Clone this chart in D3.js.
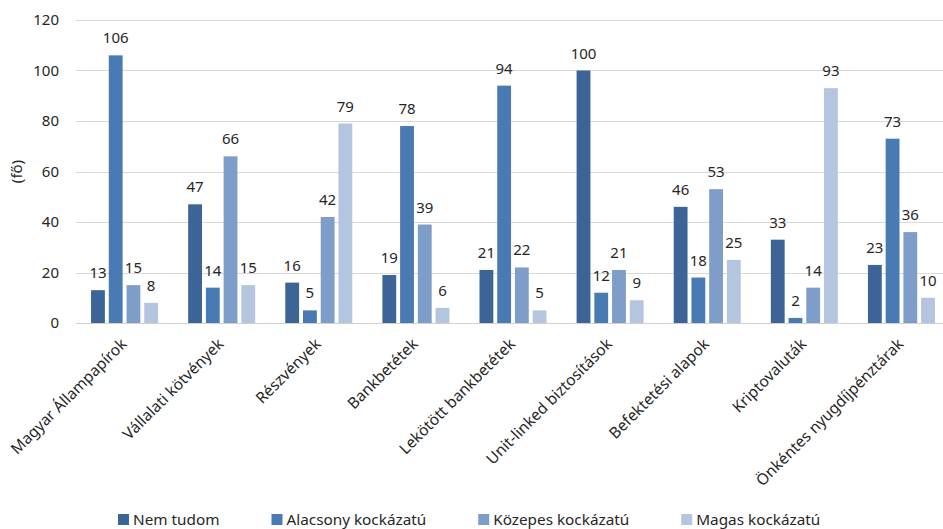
<!DOCTYPE html>
<html>
<head>
<meta charset="utf-8">
<script src="https://cdn.jsdelivr.net/npm/d3@7"></script>
<style>
  html, body { margin: 0; padding: 0; background: #fff; }
  svg { display: block; font-family: "Noto Sans", "Open Sans", sans-serif; }
</style>
</head>
<body>
<svg id="chart" width="943" height="529"></svg>
<script>
// Investment products and the perceived risk level of each (number of respondents)
const categories = [
  "Magyar Állampapírok",
  "Vállalati kötvények",
  "Részvények",
  "Bankbetétek",
  "Lekötött bankbetétek",
  "Unit-linked biztosítások",
  "Befektetési alapok",
  "Kriptovaluták",
  "Önkéntes nyugdíjpénztárak"
];
const seriesNames = ["Nem tudom", "Alacsony kockázatú", "Közepes kockázatú", "Magas kockázatú"];
const nemTudom   = [13, 47, 16, 19, 21, 100, 46, 33, 23];
const alacsony   = [106, 14, 5, 78, 94, 12, 18, 2, 73];
const kozepes    = [15, 66, 42, 39, 22, 21, 53, 14, 36];
const magas      = [8, 15, 79, 6, 5, 9, 25, 93, 10];
const yTicks = [0, 20, 40, 60, 80, 100, 120];
const yLabel = "(fő)";

const seriesValues = [nemTudom, alacsony, kozepes, magas];
const colors = ["#3c6496", "#4a7ab3", "#7f9dc9", "#b4c5e0"];

const svg = d3.select("#chart");
const textColor = "#262626";

const y = d3.scaleLinear().domain([0, 120]).range([323, 20]);
const x0 = d3.scaleBand().domain(categories).range([76, 950])
  .paddingInner(0.31).paddingOuter(0.155);
const x1 = d3.scaleBand().domain(seriesNames).range([0, x0.bandwidth()])
  .paddingInner(0.22);

// gridlines
svg.append("g")
  .selectAll("line")
  .data(yTicks)
  .join("line")
  .attr("x1", 76).attr("x2", 943)
  .attr("y1", d => Math.round(y(d)) + 0.5)
  .attr("y2", d => Math.round(y(d)) + 0.5)
  .attr("stroke", d => d === 0 ? "#d0d0d0" : "#d9d9d9")
  .attr("stroke-width", 1);

// y axis labels
const yAxis = svg.append("g").attr("transform", "translate(59,0)")
  .call(d3.axisLeft(y).tickValues(yTicks).tickSize(0).tickPadding(0));
yAxis.select(".domain").remove();
yAxis.selectAll("text")
  .attr("font-size", 15)
  .attr("font-family", "Noto Sans")
  .attr("fill", textColor);

svg.append("text")
  .attr("transform", `translate(22,${(y(0) + y(120)) / 2}) rotate(-90)`)
  .attr("text-anchor", "middle")
  .attr("font-size", 15)
  .attr("fill", textColor)
  .text(yLabel);

// bars
const rows = categories.map((c, i) => ({
  cat: c,
  vals: seriesNames.map((s, k) => ({ s, k, v: seriesValues[k][i] }))
}));

const groups = svg.append("g").selectAll("g")
  .data(rows)
  .join("g")
  .attr("transform", d => `translate(${x0(d.cat)},0)`);

groups.selectAll("rect")
  .data(d => d.vals)
  .join("rect")
  .attr("x", d => x1(d.s))
  .attr("width", x1.bandwidth())
  .attr("y", d => y(d.v))
  .attr("height", d => y(0) - y(d.v))
  .attr("fill", d => colors[d.k]);

groups.selectAll("text")
  .data(d => d.vals)
  .join("text")
  .attr("x", d => x1(d.s) + x1.bandwidth() / 2)
  .attr("y", d => y(d.v) - 12)
  .attr("text-anchor", "middle")
  .attr("font-size", 15)
  .attr("fill", textColor)
  .text(d => d.v);

// rotated category labels
const xAxis = svg.append("g").attr("transform", `translate(0,${y(0)})`)
  .call(d3.axisBottom(x0).tickSize(0).tickPadding(0));
xAxis.select(".domain").remove();
xAxis.selectAll("text")
  .attr("font-size", 15.5)
  .attr("font-family", "Noto Sans")
  .attr("fill", textColor)
  .attr("text-anchor", "end")
  .attr("dy", null)
  .attr("y", 0)
  .attr("transform", "translate(3,22) rotate(-45)");

// legend
const legend = svg.append("g").attr("transform", "translate(118,520)");
let lx = 0;
seriesNames.forEach((name, k) => {
  const item = legend.append("g").attr("transform", `translate(${lx},0)`);
  item.append("rect")
    .attr("x", 0).attr("y", -6)
    .attr("width", 11).attr("height", 11)
    .attr("fill", colors[k]);
  const t = item.append("text")
    .attr("x", 15).attr("y", 5)
    .attr("font-size", 15.3)
    .attr("fill", textColor)
    .text(name);
  lx += 15 + t.node().getComputedTextLength() + 52;
});
</script>
</body>
</html>
